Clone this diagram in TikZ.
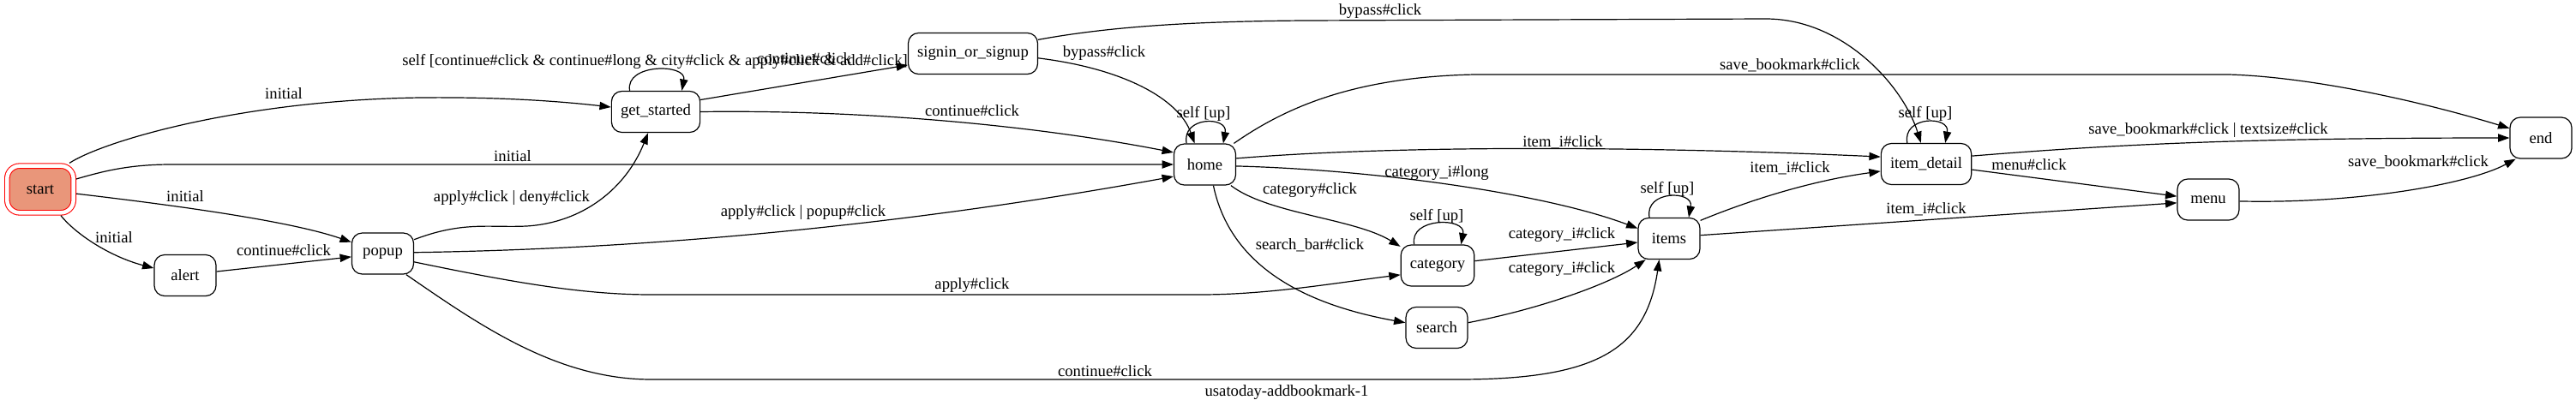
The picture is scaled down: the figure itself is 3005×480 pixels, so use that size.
\documentclass[tikz,border=0pt]{standalone}
\usepackage{fontspec}
\setmainfont{Liberation Serif}
\usetikzlibrary{arrows.meta}
\definecolor{salmon}{HTML}{E9967A}

\begin{document}
\begin{tikzpicture}[x=0.75pt,y=-0.75pt,
    font=\fontsize{14pt}{16pt}\selectfont,
    statebox/.style={draw,line width=0.9pt,rounded corners=9pt,minimum width=54pt,minimum height=36pt,inner xsep=8pt,inner ysep=0pt},
    initbox/.style={statebox,draw=red,double=white,double distance=3.4pt,fill=salmon,line width=0.8pt,rounded corners=11pt,minimum width=58pt,minimum height=41pt,outer sep=2.5pt},
    lbl/.style={inner sep=0pt},
    arw/.style={line width=0.9pt,-{Triangle[length=10pt,width=7pt]}}]
  \useasboundingbox (0,0) rectangle (3005,480);
  % states
  \node[initbox] (Start) at (47,221) {start};
  \node[statebox] (Alert) at (216,321.5) {alert};
  \node[statebox] (Popup) at (446.5,296) {popup};
  \node[statebox] (GetStarted) at (765,130.5) {get\_started};
  \node[statebox] (Signin) at (1135,62.5) {signin\_or\_signup};
  \node[statebox] (Home) at (1405.5,192) {home};
  \node[statebox] (Category) at (1677,310) {category};
  \node[statebox] (Search) at (1676,382.5) {search};
  \node[statebox] (Items) at (1947,278.5) {items};
  \node[statebox] (ItemDetail) at (2247,191.5) {item\_detail};
  \node[statebox] (Menu) at (2576,233) {menu};
  \node[statebox] (End) at (2964,161) {end};
  % from start
  \draw[arw] (Start.42) .. controls (120,165) and (280,117) .. (490,114) .. controls (590,113) and (660,119) .. (GetStarted.174);
  \node[lbl] (InitGetStarted) at (331,109) {initial};
  \draw[arw] (Start.16) .. controls (120,200) and (150,192) .. (200,192) -- (Home.180);
  \node[lbl] (InitHome) at (598,182) {initial};
  \draw[arw] (Start.-7) .. controls (250,245) and (350,262) .. (Popup.160);
  \node[lbl] (InitPopup) at (216,229) {initial};
  \draw[arw] (Start.-52) .. controls (90,275) and (130,300) .. (Alert.167);
  \node[lbl] (InitAlert) at (133,277) {initial};
  \draw[arw] (Alert.7) -- (Popup.186);
  \node[lbl] (AlertPopup) at (331,292) {continue\#click};
  % from popup
  \draw[arw] (Popup.24) .. controls (540,258) and (570,266) .. (614,264) .. controls (680,260) and (730,220) .. (GetStarted.250);
  \node[lbl] (PopupGetStarted) at (597,231) {apply\#click | deny\#click};
  \draw[arw] (Popup.2) .. controls (800,290) and (1100,255) .. (Home.201);
  \node[lbl] (PopupHome) at (937,248) {apply\#click | popup\#click};
  \draw[arw] (Popup.-15) .. controls (600,330) and (680,344) .. (760,344) -- (1400,344) .. controls (1480,344) and (1560,330) .. (Category.194);
  \node[lbl] (PopupCategory) at (1134,333) {apply\#click};
  \draw[arw] (Popup.-42) .. controls (560,380) and (650,443) .. (760,443) -- (1700,443) .. controls (1860,443) and (1920,410) .. (Items.245);
  \node[lbl] (PopupItems) at (1289,433) {continue\#click};
  % from get_started
  \draw[arw] (GetStarted.141) .. controls +(-6,-32) and +(6,-32) .. (GetStarted.39);
  \node[lbl] (SelfGetStarted) at (764,72) {self [continue\#click \& continue\#long \& city\#click \& apply\#click \& add\#click]};
  \draw[arw] (GetStarted.15) -- (Signin.190);
  \node[lbl] (GetStartedSignin) at (938,68) {continue\#click};
  \draw[arw] (GetStarted.0) .. controls (1000,128) and (1200,145) .. (Home.159);
  \node[lbl] (GetStartedHome) at (1134,129) {continue\#click};
  % from signin_or_signup
  \draw[arw] (Signin.12) .. controls (1300,30) and (1400,25) .. (1520,24) -- (2060,22) .. controls (2150,22) and (2220,100) .. (ItemDetail.104);
  \node[lbl] (SigninItemDetail) at (1610,13) {bypass\#click};
  \draw[arw] (Signin.-4) .. controls (1310,80) and (1375,115) .. (Home.116);
  \node[lbl] (SigninHome) at (1288,62) {bypass\#click};
  % from home
  \draw[arw] (Home.131) .. controls +(-6,-32) and +(6,-32) .. (Home.49);
  \node[lbl] (SelfHome) at (1404,133) {self [up]};
  \draw[arw] (Home.36) .. controls (1500,125) and (1580,90) .. (1720,87) -- (2600,87) .. controls (2700,90) and (2830,120) .. (End.163);
  \node[lbl] (HomeEnd) at (2088,76) {save\_bookmark\#click};
  \draw[arw] (Home.11) .. controls (1650,168) and (1950,172) .. (ItemDetail.171);
  \node[lbl] (HomeItemDetail) at (1823,166) {item\_i\#click};
  \draw[arw] (Home.-3) .. controls (1600,198) and (1800,225) .. (Items.162);
  \node[lbl] (HomeItems) at (1676,202) {category\_i\#long};
  \draw[arw] (Home.-39) .. controls (1480,250) and (1580,255) .. (Category.153);
  \node[lbl] (HomeCategory) at (1528,222) {category\#click};
  \draw[arw] (Home.-68) .. controls (1435,310) and (1520,355) .. (Search.171);
  \node[lbl] (HomeSearch) at (1528,286) {search\_bar\#click};
  % category, search, items
  \draw[arw] (Category.138) .. controls +(-6,-32) and +(6,-32) .. (Category.42);
  \node[lbl] (SelfCategory) at (1676,253) {self [up]};
  \draw[arw] (Category.7) -- (Items.187);
  \node[lbl] (CategoryItems) at (1822,274) {category\_i\#click};
  \draw[arw] (Search.9) .. controls (1800,360) and (1880,330) .. (Items.222);
  \node[lbl] (SearchItems) at (1822,314) {category\_i\#click};
  \draw[arw] (Items.133) .. controls +(-6,-32) and +(6,-32) .. (Items.47);
  \node[lbl] (SelfItems) at (1945,221) {self [up]};
  \draw[arw] (Items.30) .. controls (2050,230) and (2120,210) .. (ItemDetail.189);
  \node[lbl] (ItemsItemDetail) at (2088,196) {item\_i\#click};
  \draw[arw] (Items.6) -- (Menu.186);
  \node[lbl] (ItemsMenu) at (2247,244) {item\_i\#click};
  % item_detail, menu
  \draw[arw] (ItemDetail.132) .. controls +(-6,-32) and +(6,-32) .. (ItemDetail.48);
  \node[lbl] (SelfItemDetail) at (2246,133) {self [up]};
  \draw[arw] (ItemDetail.10) .. controls (2450,170) and (2600,161) .. (End.180);
  \node[lbl] (ItemDetailEnd) at (2576,152) {save\_bookmark\#click | textsize\#click};
  \draw[arw] (ItemDetail.-7) -- (Menu.174);
  \node[lbl] (ItemDetailMenu) at (2367,192) {menu\#click};
  \draw[arw] (Menu.-3) .. controls (2750,238) and (2880,215) .. (End.220);
  \node[lbl] (MenuEnd) at (2821,189) {save\_bookmark\#click};
  % graph label
  \node[lbl] (GraphLabel) at (1501,458) {usatoday-addbookmark-1};
\end{tikzpicture}
\end{document}
